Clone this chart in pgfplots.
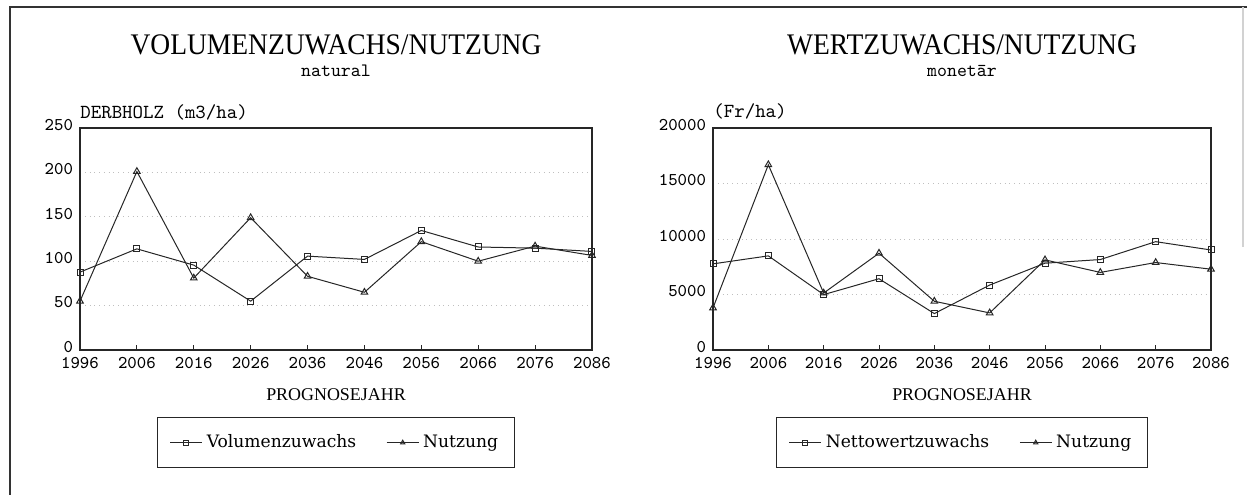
\documentclass[border=0pt]{standalone}
\usepackage{fontspec}
\usepackage{graphicx}
\usepackage{pgfplots}
\pgfplotsset{compat=1.18}
\setmainfont{Liberation Serif}
\newfontfamily\legfont{DejaVu Serif}

\pgfplotsset{
  mychart/.style={
    scale only axis,
    height=111bp,
    xmin=1996, xmax=2086,
    xtick={1996,2006,...,2086},
    xtick pos=left,
    ymin=0,
    ymajorgrids,
    grid style={gray!50, dotted, line width=0.5bp},
    axis line style={black!85, line width=0.6bp},
    xtick style={black!85, line width=0.5bp},
    ytick style={draw=none},
    major tick length=2.5bp,
    tick label style={font=\ttfamily\fontsize{9}{10}\selectfont},
    xticklabel style={yshift=-2bp, inner sep=1.5bp},
    yticklabel style={yshift=1.6bp},
    /pgf/number format/assume math mode=true,
    /pgf/number format/set thousands separator={},
    legend columns=2,
    legend cell align=left,
    legend image code/.code={\draw[mark repeat=2,mark phase=2,#1,mark size=1.2bp] plot coordinates {(0bp,0bp) (8bp,0bp) (16bp,0bp)};},
    legend style={at={(0.5,-0.302)}, anchor=north, draw=black!85, line width=0.6bp,
      font=\legfont\fontsize{8.6}{10}\selectfont,
      inner xsep=6bp, inner ysep=6.5bp,
      /tikz/every even column/.append style={column sep=13bp}},
  },
  sq/.style={black!85, line width=0.5bp, mark=square, mark size=1.5bp, mark options={solid, fill=white}},
  tr/.style={black!85, line width=0.5bp, mark=triangle, mark size=1.9bp, mark options={solid, fill=white}},
}

\begin{document}
\begin{tikzpicture}
\useasboundingbox (0,0) rectangle (623.5bp,247.5bp);
% outer frame
\draw[black!80, line width=0.8bp] (5bp,0bp) -- (5bp,244bp) -- (623.5bp,244bp);
\draw[gray!35, line width=0.6bp] (621.5bp,244bp) -- (621.5bp,124bp);

% left chart
\begin{axis}[mychart, anchor=south west, at={(40bp,72.5bp)}, width=256bp,
  ymax=250, ytick={0,50,...,250}]
\addplot[sq] coordinates {(1996,87.7) (2006,113.9) (2016,95.6) (2026,55) (2036,105.7) (2046,102) (2056,134.6) (2066,116) (2076,114.7) (2086,111)};
\addlegendentry{Volumenzuwachs}
\addplot[tr] coordinates {(1996,55) (2006,201) (2016,81) (2026,149) (2036,83) (2046,65) (2056,122) (2066,100) (2076,117) (2086,106.5)};
\addlegendentry{Nutzung}
\end{axis}

% right chart
\begin{axis}[mychart, anchor=south west, at={(356.5bp,72.5bp)}, width=249bp,
  ymax=20000, ytick={0,5000,...,20000}, scaled y ticks=false]
\addplot[sq] coordinates {(1996,7760) (2006,8480) (2016,4990) (2026,6420) (2036,3280) (2046,5850) (2056,7820) (2066,8150) (2076,9760) (2086,9010)};
\addlegendentry{Nettowertzuwachs}
\addplot[tr] coordinates {(1996,3790) (2006,16690) (2016,5130) (2026,8720) (2036,4390) (2046,3340) (2056,8120) (2066,6990) (2076,7880) (2086,7280)};
\addlegendentry{Nutzung}
\end{axis}

% titles
\node[anchor=base] at (168bp,220bp) {\fontsize{15}{17}\selectfont\scalebox{0.92}[1]{VOLUMENZUWACHS/NUTZUNG}};
\node[anchor=base] at (168bp,209bp) {\ttfamily\fontsize{9.5}{11}\selectfont natural};
\node[anchor=base] at (481bp,220bp) {\fontsize{15}{17}\selectfont\scalebox{0.92}[1]{WERTZUWACHS/NUTZUNG}};
\node[anchor=base] at (481bp,209bp) {\ttfamily\fontsize{9.5}{11}\selectfont monetār};

% y labels
\node[anchor=base west, inner sep=0pt] at (40bp,188bp) {\ttfamily\fontsize{10}{11}\selectfont DERBHOLZ (m3/ha)};
\node[anchor=base west, inner sep=0pt] at (356.5bp,188.5bp) {\ttfamily\fontsize{10}{11}\selectfont (Fr/ha)};

% x labels
\node[anchor=base] at (168bp,47bp) {\fontsize{9}{10}\selectfont PROGNOSEJAHR};
\node[anchor=base] at (481bp,47bp) {\fontsize{9}{10}\selectfont PROGNOSEJAHR};
\end{tikzpicture}
\end{document}
